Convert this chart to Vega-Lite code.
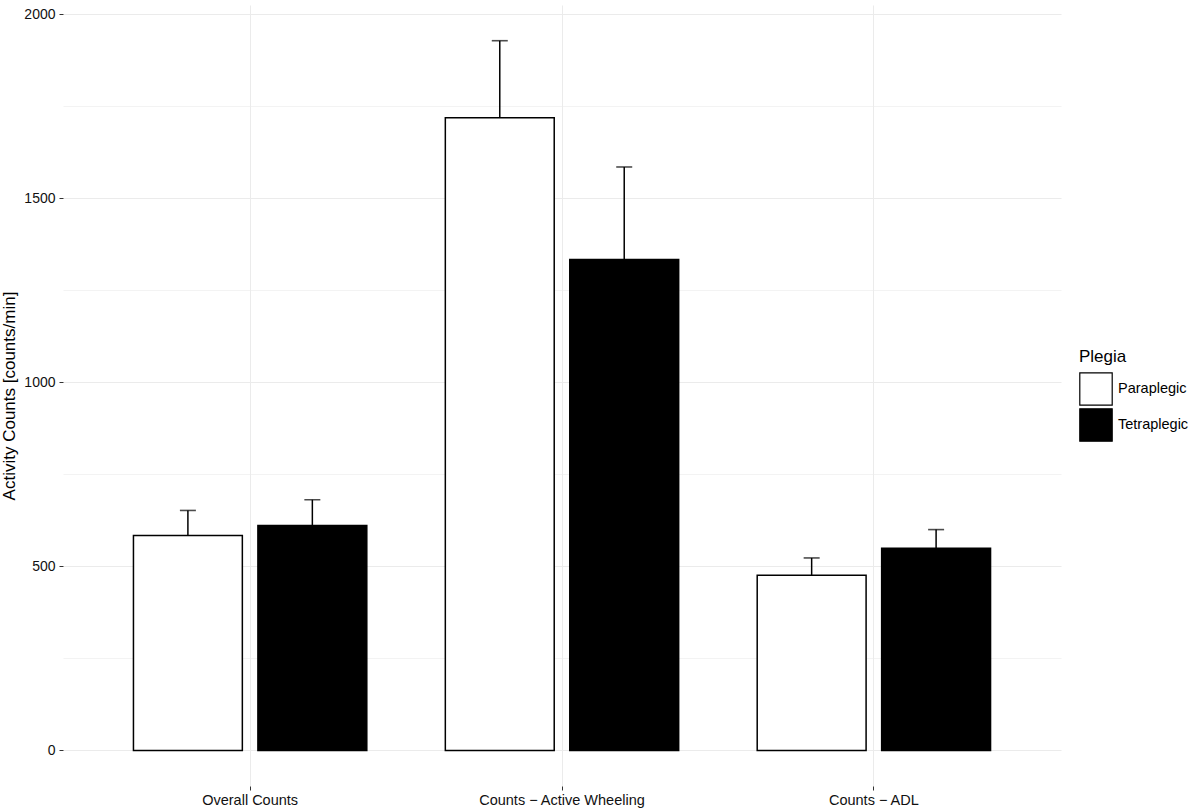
{
  "$schema": "https://vega.github.io/schema/vega-lite/v6.json",
  "width": 998,
  "height": 781,
  "autosize": {"type": "none"},
  "padding": {"left": 63, "top": 5, "right": 131, "bottom": 24},
  "background": "white",
  "config": {
    "view": {"stroke": null},
    "font": "Liberation Sans",
    "axis": {"labelFont": "Liberation Sans", "titleFont": "Liberation Sans"}
  },
  "data": {
    "values": [
      {"category": "Overall Counts", "plegia": "Paraplegic", "value": 584, "upper": 652},
      {"category": "Overall Counts", "plegia": "Tetraplegic", "value": 611, "upper": 681},
      {"category": "Counts − Active Wheeling", "plegia": "Paraplegic", "value": 1719, "upper": 1928},
      {"category": "Counts − Active Wheeling", "plegia": "Tetraplegic", "value": 1334, "upper": 1585},
      {"category": "Counts − ADL", "plegia": "Paraplegic", "value": 476, "upper": 523},
      {"category": "Counts − ADL", "plegia": "Tetraplegic", "value": 549, "upper": 600}
    ]
  },
  "encoding": {
    "x": {
      "field": "category",
      "type": "nominal",
      "sort": ["Overall Counts", "Counts − Active Wheeling", "Counts − ADL"],
      "scale": {"paddingInner": 0, "paddingOuter": 0.1},
      "axis": {
        "title": null,
        "labelAngle": 0,
        "labelFontSize": 14.5,
        "labelColor": "#111",
        "labelPadding": 3,
        "tickSize": 4,
        "tickColor": "#333",
        "domain": false,
        "grid": true,
        "gridColor": "#ebebeb",
        "gridWidth": 1
      }
    },
    "xOffset": {
      "field": "plegia",
      "type": "nominal",
      "scale": {"paddingInner": 0.125, "paddingOuter": 0.3155}
    }
  },
  "layer": [
    {
      "mark": {"type": "rule", "stroke": "black", "strokeWidth": 1.5},
      "encoding": {
        "y": {"field": "value", "type": "quantitative"},
        "y2": {"field": "upper"}
      }
    },
    {
      "mark": {"type": "tick", "color": "black", "size": 16, "thickness": 1.6, "orient": "horizontal"},
      "encoding": {
        "y": {"field": "upper", "type": "quantitative"}
      }
    },
    {
      "mark": {"type": "bar", "stroke": "black", "strokeWidth": 1.5},
      "encoding": {
        "y": {
          "field": "value",
          "type": "quantitative",
          "scale": {"domain": [-96.5, 2025], "nice": false, "zero": false},
          "axis": {
            "title": "Activity Counts [counts/min]",
            "titleFontSize": 17,
            "titleFontWeight": "normal",
            "titleColor": "black",
            "titlePadding": 5,
            "values": [0, 250, 500, 750, 1000, 1250, 1500, 1750, 2000],
            "labelExpr": "datum.value % 500 === 0 ? datum.label : ''",
            "format": "d",
            "labelFontSize": 14,
            "labelColor": "#111",
            "labelPadding": 4,
            "tickSize": 4,
            "tickColor": "#333",
            "tickOpacity": {"condition": {"test": "datum.value % 500 === 0", "value": 1}, "value": 0},
            "domain": false,
            "grid": true,
            "gridColor": "#ebebeb",
            "gridWidth": {"condition": {"test": "datum.value % 500 === 0", "value": 1}, "value": 0.6}
          }
        },
        "y2": {"datum": 0},
        "fill": {
          "field": "plegia",
          "type": "nominal",
          "scale": {"domain": ["Paraplegic", "Tetraplegic"], "range": ["white", "black"]},
          "legend": {
            "title": "Plegia",
            "orient": "none",
            "legendX": 1016,
            "legendY": 344,
            "padding": 0,
            "titleFontSize": 17,
            "titleFontWeight": "normal",
            "titleColor": "black",
            "titlePadding": 6,
            "symbolType": "square",
            "symbolSize": 1050,
            "symbolStrokeColor": "black",
            "symbolStrokeWidth": 1.2,
            "labelFontSize": 14.5,
            "labelColor": "black",
            "labelOffset": 5,
            "rowPadding": -7
          }
        }
      }
    }
  ]
}
